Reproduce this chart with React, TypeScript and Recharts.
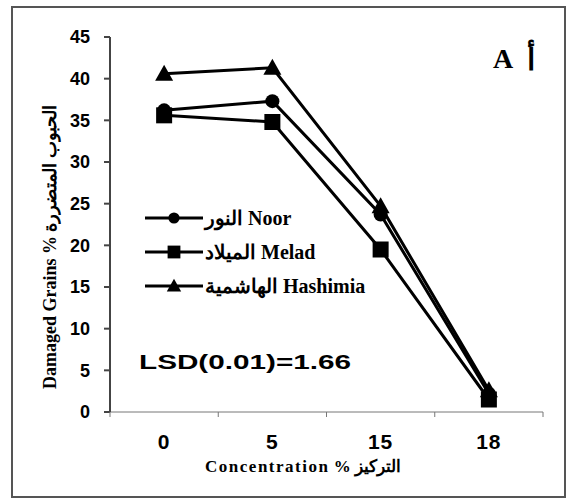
import React from 'react';
import { LineChart, Line, XAxis, YAxis, Legend } from 'recharts';

// values
const CONCENTRATIONS = ['0', '5', '15', '18'];
const NOOR = [36.2, 37.3, 23.7, 2.2];
const MELAD = [35.6, 34.8, 19.5, 1.5];
const HASHIMIA = [40.6, 41.3, 24.7, 2.6];
const Y_TICKS = [0, 5, 10, 15, 20, 25, 30, 35, 40, 45];

const SERIES = [
  { key: 'noor', name: 'النور Noor', values: NOOR, shape: 'circle' },
  { key: 'melad', name: 'الميلاد Melad', values: MELAD, shape: 'square' },
  { key: 'hashimia', name: 'الهاشمية Hashimia', values: HASHIMIA, shape: 'triangle' },
];

const data = CONCENTRATIONS.map((c, i) => {
  const row: any = { conc: c };
  SERIES.forEach((s) => { row[s.key] = s.values[i]; });
  return row;
});

const W = 568;
const H = 500;
const MARGIN = { top: 37, right: 25, bottom: 58, left: 0 };
const Y_AXIS_W = 110;
const X_AXIS_H = 30;
const BAND = (W - Y_AXIS_W - MARGIN.right) / CONCENTRATIONS.length;

const SERIF = '"Liberation Serif", "Times New Roman", serif';
const SANS = '"Liberation Sans", Arial, sans-serif';

const Marker = ({ shape, cx, cy, s = 1 }: { shape: string; cx: number; cy: number; s?: number }) => {
  if (shape === 'circle') return <circle cx={cx} cy={cy} r={7 * s} fill="#000" />;
  if (shape === 'square') return <rect x={cx - 8 * s} y={cy - 8 * s} width={16 * s} height={16 * s} fill="#000" />;
  return (
    <path
      d={`M${cx},${cy - 9 * s} L${cx + 9 * s},${cy + 7 * s} L${cx - 9 * s},${cy + 7 * s} Z`}
      fill="#000"
    />
  );
};

// labels sit in the middle of each band, tick marks on the band edges
const XTick = (props: any) => {
  const { x, y, payload, index } = props;
  const last = index === CONCENTRATIONS.length - 1;
  return (
    <g>
      <line x1={x - BAND / 2} y1={y} x2={x - BAND / 2} y2={y + 5} stroke="#777" />
      {last && <line x1={x + BAND / 2} y1={y} x2={x + BAND / 2} y2={y + 5} stroke="#777" />}
      <text x={x} y={y + 37} textAnchor="middle" fontFamily={SANS} fontWeight="bold" fontSize={21} letterSpacing={1} fill="#000">
        {payload.value}
      </text>
    </g>
  );
};

const renderLegend = (props: any) => {
  const items = (props.payload || [])
    .map((p: any) => SERIES.find((s) => s.key === p.dataKey))
    .filter(Boolean)
    .sort((a: any, b: any) => SERIES.indexOf(a) - SERIES.indexOf(b));
  return (
    <div>
      {items.map((s: any) => (
        <div key={s.key} style={{ display: 'flex', alignItems: 'center', height: 34 }}>
          <svg width={58} height={20}>
            <line x1={0} y1={10} x2={58} y2={10} stroke="#000" strokeWidth={3} />
            <Marker shape={s.shape} cx={29} cy={10} s={0.8} />
          </svg>
          <span style={{ fontFamily: SERIF, fontWeight: 'bold', fontSize: 20, color: '#000', marginLeft: 2, whiteSpace: 'nowrap' }}>
            {s.name}
          </span>
        </div>
      ))}
    </div>
  );
};

export default function App() {
  return (
    <div style={{ position: 'absolute', left: 0, top: 0, width: W, height: H, background: '#fff' }}>
      <div
        style={{
          position: 'absolute', left: 11, top: 6, width: 555, height: 492,
          border: '2px solid #555', boxSizing: 'border-box',
        }}
      />
      <LineChart width={W} height={H} data={data} margin={MARGIN}>
        <XAxis
          dataKey="conc"
          height={X_AXIS_H}
          stroke="#777"
          padding={{ left: BAND / 2, right: BAND / 2 }}
          tickLine={false}
          tickSize={0}
          tickMargin={0}
          interval={0}
          tick={<XTick />}
        />
        <YAxis
          width={Y_AXIS_W}
          domain={[0, 45]}
          ticks={Y_TICKS}
          interval={0}
          stroke="#444"
          strokeWidth={2}
          tickSize={6}
          tickMargin={14}
          tick={{ fill: '#000', fontSize: 18, fontWeight: 'bold', fontFamily: SANS }}
        />
        <Legend
          layout="horizontal"
          align="center"
          verticalAlign="middle"
          content={renderLegend}
          wrapperStyle={{ left: 145, top: 201, width: 280 }}
        />
        {[SERIES[2], SERIES[0], SERIES[1]].map((s) => (
          <Line
            key={s.key}
            dataKey={s.key}
            name={s.name}
            type="linear"
            stroke="#000"
            strokeWidth={3}
            isAnimationActive={false}
            dot={(p: any) => <Marker key={`${s.key}-${p.index}`} shape={s.shape} cx={p.cx} cy={p.cy} />}
            activeDot={false}
          />
        ))}
      </LineChart>
      <svg width={W} height={H} style={{ position: 'absolute', left: 0, top: 0, pointerEvents: 'none' }}>
        <text
          transform="translate(56,247) rotate(-90)"
          textAnchor="middle"
          fontFamily={SERIF}
          fontWeight="bold"
          fontSize={18}
          fill="#000"
        >
          Damaged Grains % الحبوب المتضررة
        </text>
        <text x={303} y={472} textAnchor="middle" fontFamily={SERIF} fontWeight="bold" fontSize={17} fill="#000">
          <tspan letterSpacing={1.5}>Concentration</tspan>
          <tspan> % التركيز</tspan>
        </text>
        <text x={139} y={369} fontFamily={SANS} fontWeight="bold" fontSize={20} textLength={212} lengthAdjust="spacingAndGlyphs" fill="#000">
          LSD(0.01)=1.66
        </text>
        <text x={493} y={68} fontFamily={SERIF} fontWeight="bold" fontSize={28} fill="#000">A</text>
        <text x={527} y={70} fontFamily={SERIF} fontWeight="bold" fontSize={30} fill="#000">أ</text>
      </svg>
    </div>
  );
}
